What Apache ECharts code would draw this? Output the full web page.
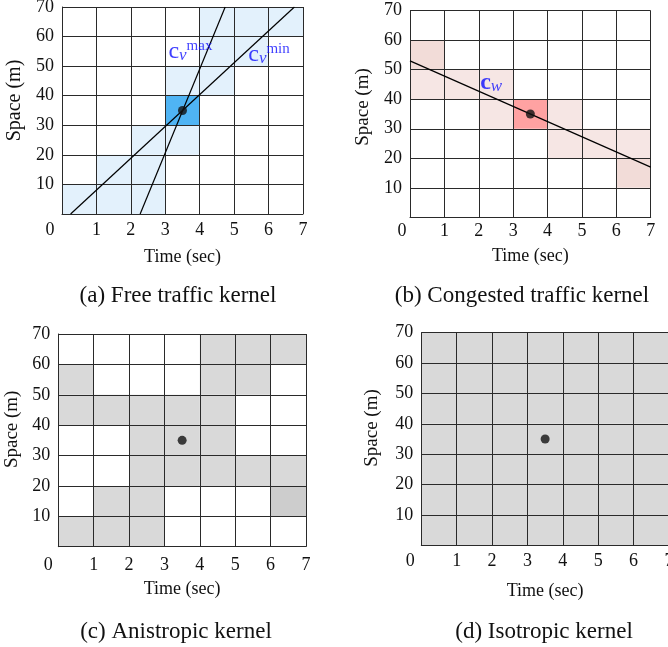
<!DOCTYPE html>
<html>
<head>
<meta charset="utf-8">
<title>Kernels</title>
<script src="https://cdn.jsdelivr.net/npm/echarts@6/dist/echarts.min.js"></script>
<style>
html, body { margin: 0; padding: 0; background: #fff; }
#main { width: 668px; height: 647px; }
</style>
</head>
<body>
<div id="main"></div>
<script>
// axes: time (sec) and space (m)
var timeTicks = [0, 1, 2, 3, 4, 5, 6, 7];
var spaceTicks = [0, 10, 20, 30, 40, 50, 60, 70];

// kernel cells, first row = 60-70 m, last row = 0-10 m, columns 0-1 ... 6-7 sec
// 0 empty, 1 kernel cell, 2 centre cell, 3 overlapping cell
var kernelFree = [
    [0, 0, 0, 0, 1, 1, 1],
    [0, 0, 0, 0, 1, 1, 0],
    [0, 0, 0, 1, 1, 0, 0],
    [0, 0, 0, 2, 0, 0, 0],
    [0, 0, 1, 1, 0, 0, 0],
    [0, 1, 1, 0, 0, 0, 0],
    [1, 1, 1, 0, 0, 0, 0]
];
var kernelCongested = [
    [0, 0, 0, 0, 0, 0, 0],
    [3, 0, 0, 0, 0, 0, 0],
    [1, 1, 1, 0, 0, 0, 0],
    [0, 0, 1, 2, 1, 0, 0],
    [0, 0, 0, 0, 1, 1, 1],
    [0, 0, 0, 0, 0, 0, 3],
    [0, 0, 0, 0, 0, 0, 0]
];
var kernelAniso = [
    [0, 0, 0, 0, 1, 1, 1],
    [1, 0, 0, 0, 1, 1, 0],
    [1, 1, 1, 1, 1, 0, 0],
    [0, 0, 1, 1, 1, 0, 0],
    [0, 0, 1, 1, 1, 1, 1],
    [0, 1, 1, 0, 0, 0, 3],
    [1, 1, 1, 0, 0, 0, 0]
];
var kernelIso = [
    [1, 1, 1, 1, 1, 1, 1],
    [1, 1, 1, 1, 1, 1, 1],
    [1, 1, 1, 1, 1, 1, 1],
    [1, 1, 1, 1, 1, 1, 1],
    [1, 1, 1, 1, 1, 1, 1],
    [1, 1, 1, 1, 1, 1, 1],
    [1, 1, 1, 1, 1, 1, 1]
];

// the point being estimated
var probePoint = [3.5, 35];
// characteristic speed lines (time, space)
var cvMaxLine = [[2.27, 0], [4.74, 70]];
var cvMinLine = [[0.25, 0], [6.75, 70]];
var cwLine = [[0, 53], [7, 17]];
// where the speed labels sit
var cvMaxLabelAt = [3.09, 55];
var cvMinLabelAt = [5.41, 54];
var cwLabelAt = [2.04, 45.7];

var captions = ['(a) Free traffic kernel', '(b) Congested traffic kernel', '(c) Anistropic kernel', '(d) Isotropic kernel'];
var timeName = 'Time (sec)';
var spaceName = 'Space (m)';

var FONT = 'Liberation Serif';
var BLUE = '#0f0fff';

// panel layout
var panels = [
    {left: 62, top: 7, width: 241, height: 207, lblMargin: 7, xGap: 34, yGap: 37, zeroShift: 24, yShift: 20, yFont: 20, capX: 178, capY: 296},
    {left: 410, top: 10.7, width: 240.7, height: 206.6, lblMargin: 5, xGap: 30, yGap: 37, zeroShift: 16, yShift: 14, yFont: 19, capX: 522, capY: 296},
    {left: 58.3, top: 334, width: 247.7, height: 212.7, lblMargin: 10, xGap: 34, yGap: 37, zeroShift: 20, yShift: 22, yFont: 19, capX: 176, capY: 632},
    {left: 421.3, top: 332.7, width: 247.7, height: 212.6, lblMargin: 7, xGap: 37, yGap: 40, zeroShift: 22, yShift: 22, yFont: 19, capX: 544, capY: 632}
];

function kernelCells(kernel) {
    var items = [];
    var n = kernel.length;
    for (var r = 0; r < n; r++) {
        for (var c = 0; c < kernel[r].length; c++) {
            if (kernel[r][c]) {
                items.push([timeTicks[c], timeTicks[c + 1], spaceTicks[n - r - 1], spaceTicks[n - r], kernel[r][c]]);
            }
        }
    }
    return items;
}

function cellSeries(idx, kernel, colors) {
    return {
        type: 'custom',
        xAxisIndex: idx,
        yAxisIndex: idx,
        z: 0,
        silent: true,
        encode: {x: [0, 1], y: [2, 3]},
        renderItem: function (params, api) {
            var p0 = api.coord([api.value(0), api.value(3)]);
            var p1 = api.coord([api.value(1), api.value(2)]);
            return {
                type: 'rect',
                shape: {x: p0[0], y: p0[1], width: p1[0] - p0[0], height: p1[1] - p0[1]},
                style: {fill: colors[api.value(4)]}
            };
        },
        data: kernelCells(kernel)
    };
}

function lineSeries(idx, data) {
    return {
        type: 'line',
        xAxisIndex: idx,
        yAxisIndex: idx,
        z: 3,
        symbol: 'none',
        silent: true,
        lineStyle: {color: '#000', width: 1.2},
        data: data
    };
}

function dotSeries(idx) {
    return {
        type: 'scatter',
        xAxisIndex: idx,
        yAxisIndex: idx,
        z: 4,
        symbolSize: 9,
        silent: true,
        itemStyle: {color: '#111'},
        data: [probePoint]
    };
}

var speedRich = {
    c: {fontFamily: FONT, fontSize: 24, color: BLUE, lineHeight: 26},
    cb: {fontFamily: FONT, fontSize: 24, fontWeight: 'bold', color: BLUE, lineHeight: 26},
    v: {fontFamily: FONT, fontSize: 17, fontStyle: 'italic', color: BLUE, verticalAlign: 'bottom', lineHeight: 15},
    s: {fontFamily: FONT, fontSize: 15, color: BLUE, verticalAlign: 'top', lineHeight: 12}
};

function labelSeries(idx, at, text) {
    return {
        type: 'scatter',
        xAxisIndex: idx,
        yAxisIndex: idx,
        z: 5,
        symbolSize: 0,
        silent: true,
        label: {
            show: true,
            position: 'right',
            distance: 0,
            formatter: text,
            rich: speedRich
        },
        data: [at]
    };
}

var grids = [], xAxes = [], yAxes = [], graphics = [];
panels.forEach(function (p, i) {
    grids.push({left: p.left, top: p.top, width: p.width, height: p.height, containLabel: false, outerBoundsMode: 'none'});
    xAxes.push({
        type: 'value',
        gridIndex: i,
        min: timeTicks[0],
        max: timeTicks[timeTicks.length - 1],
        interval: 1,
        z: 1,
        name: timeName,
        nameLocation: 'middle',
        nameGap: p.xGap,
        nameTextStyle: {fontFamily: FONT, fontSize: 18, color: '#111'},
        axisLine: {lineStyle: {color: '#2a2a2a', width: 1}},
        axisTick: {show: false},
        splitLine: {show: true, lineStyle: {color: '#2a2a2a', width: 1}},
        axisLabel: {
            margin: p.lblMargin,
            fontFamily: FONT,
            fontSize: 18,
            color: '#111',
            formatter: function (v) { return v === 0 ? '{z|0}' : String(v); },
            rich: {z: {fontFamily: FONT, fontSize: 18, color: '#111', padding: [0, p.zeroShift, 0, 0]}}
        }
    });
    yAxes.push({
        type: 'value',
        gridIndex: i,
        min: spaceTicks[0],
        max: spaceTicks[spaceTicks.length - 1],
        interval: 10,
        z: 1,
        name: spaceName,
        nameLocation: 'middle',
        nameGap: p.yGap,
        nameTextStyle: {fontFamily: FONT, fontSize: p.yFont, color: '#111', padding: [0, 0, 0, p.yShift]},
        axisLine: {lineStyle: {color: '#2a2a2a', width: 1}},
        axisTick: {show: false},
        splitLine: {show: true, lineStyle: {color: '#2a2a2a', width: 1}},
        axisLabel: {
            margin: 8,
            fontFamily: FONT,
            fontSize: 18,
            color: '#111',
            formatter: function (v) { return v === 0 ? '' : String(v); }
        }
    });
    graphics.push({
        type: 'text',
        x: p.capX,
        y: p.capY,
        style: {text: captions[i], fontFamily: FONT, fontSize: 23, fill: '#111', textAlign: 'center', textVerticalAlign: 'middle'}
    });
});

var series = [
    cellSeries(0, kernelFree, ['', '#e3f1fc', '#4fb4f4', '#e3f1fc']),
    lineSeries(0, cvMaxLine),
    lineSeries(0, cvMinLine),
    dotSeries(0),
    labelSeries(0, cvMaxLabelAt, '{c|c}{v|v}{s|max}'),
    labelSeries(0, cvMinLabelAt, '{c|c}{v|v}{s|min}'),

    cellSeries(1, kernelCongested, ['', '#f6e6e4', '#ffa2a2', '#f2dcd8']),
    lineSeries(1, cwLine),
    dotSeries(1),
    labelSeries(1, cwLabelAt, '{cb|c}{v|w}'),

    cellSeries(2, kernelAniso, ['', '#d9d9d9', '#d9d9d9', '#cdcdcd']),
    dotSeries(2),

    cellSeries(3, kernelIso, ['', '#d9d9d9', '#d9d9d9', '#d9d9d9']),
    dotSeries(3)
];

var kernelChart = echarts.init(document.getElementById('main'), null, {renderer: 'canvas'});
kernelChart.setOption({
    animation: false,
    textStyle: {fontFamily: FONT},
    grid: grids,
    xAxis: xAxes,
    yAxis: yAxes,
    series: series,
    graphic: graphics
});
</script>
</body>
</html>
